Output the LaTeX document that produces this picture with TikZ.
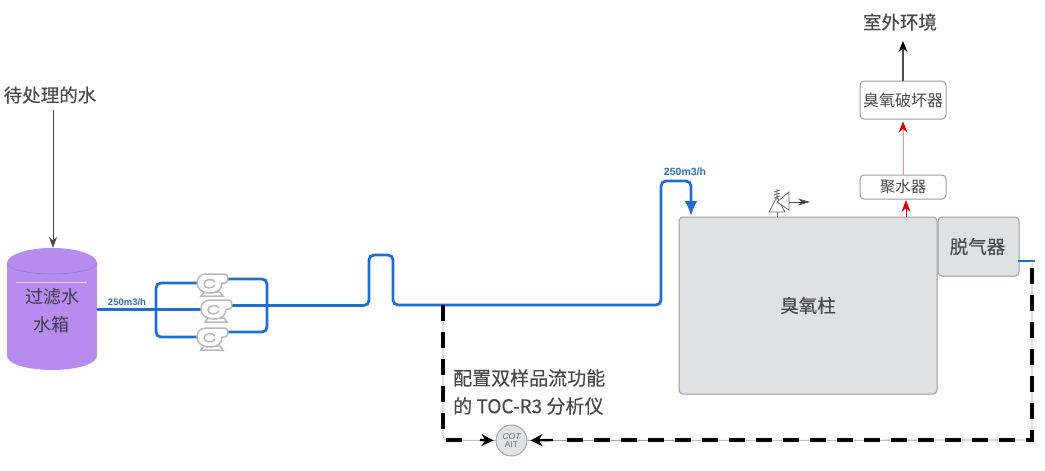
\documentclass[tikz,border=0pt]{standalone}
\usepackage{fontspec}
\newfontfamily\cjk{Noto Sans CJK SC}
\newfontfamily\cjkm[FakeBold=0.35]{Noto Sans CJK SC}
\setmainfont{Liberation Sans}
\usetikzlibrary{arrows.meta,calc}
\definecolor{pipeblue}{HTML}{1F6FD0}
\definecolor{txt}{HTML}{4A4A4A}
\definecolor{colgray}{HTML}{DFE2E5}
\definecolor{edgegray}{HTML}{9A9DA0}
\definecolor{tank}{HTML}{B68CEE}
\tikzset{
 x=1pt,y=-1pt,
 pipe/.style={draw=pipeblue,line width=2.8pt,rounded corners=5pt},
 straightpipe/.style={draw=pipeblue,line width=2.8pt},
 flow/.style={text=pipeblue!85!gray,font=\bfseries\fontsize{9.5}{10}\selectfont,inner sep=0pt},
 label/.style={text=txt,font=\cjkm\fontsize{18.5}{22}\selectfont,inner sep=0pt,align=left},
 whitebox/.style={draw=edgegray,line width=1pt,fill=white,rounded corners=4pt,text=txt,inner sep=0pt,minimum width=86pt},
 graybox/.style={draw=edgegray,line width=1pt,fill=colgray,rounded corners=4pt,inner sep=0pt,text=txt,font=\cjkm\fontsize{18.5}{22}\selectfont},
 sample/.style={draw=black,line width=3.8pt,dash pattern=on 16pt off 11pt},
 samplethin/.style={draw=gray!70,line width=0.8pt,rounded corners=4pt},
 pump/.pic={
  \draw[draw=gray!55,line width=1.5pt,fill=white]
    (-8,8) -- (-11,12) -- (11,12) -- (8,8) -- cycle;
  \draw[draw=gray!55,line width=1.5pt,fill=white]
    (-6,-10) -- (13,-10) .. controls (17,-10) and (17,-1) .. (13,-1) -- (10,-1)
    .. controls (10,5) and (6,9) .. (-2,9) .. controls (-11,9) and (-15,4) .. (-15,-1)
    .. controls (-15,-7) and (-11,-10) .. (-6,-10) -- cycle;
  \draw[draw=gray!55,line width=1.5pt] (3,-2) .. controls (1,-6) and (-8,-5) .. (-8,0) .. controls (-8,5) and (1,5) .. (3,1);
 }
}
\begin{document}
\begin{tikzpicture}
\useasboundingbox (0,0) rectangle (1045,471);

% tank
\fill[tank] (7,263) arc[x radius=45,y radius=15,start angle=180,end angle=360]
  -- (97,356) arc[x radius=45,y radius=14,start angle=0,end angle=180] -- cycle;
\draw[tank!85!black,line width=0.6pt] (7,263) arc[x radius=45,y radius=11,start angle=180,end angle=0];
\draw[white!70!tank,line width=0.8pt] (16,282) -- (87,282);
\node[inner sep=0pt,text=txt!70!tank!60!black,font=\cjk\fontsize{18}{28}\selectfont,align=center] (tanklabel) at (52,311) {过滤水\\水箱};
\coordinate (tankout) at (97,309.4);

% inlet
\node[label] (inlet) at (50,95) {待处理的水};
\coordinate (tanktop) at (53,248);
\draw[draw=txt,line width=0.9pt,-{Stealth[length=11pt,width=8pt]}] (53,110) -- (tanktop);

% pipes round the pumps
\coordinate (mL) at (156,309.4);
\coordinate (mR) at (267,305.4);
\coordinate (kink1) at (369,305.4);
\coordinate (kink2) at (393,305);
\coordinate (tee) at (443,305);
\coordinate (rise) at (661,305);
\coordinate (colin) at (691,216);
\draw[straightpipe] (tankout) -- (204,309.4);
\draw[pipe] (mL) |- (200,283);
\draw[pipe] (mL) |- (200,337);
\draw[pipe] (220,279) -| (mR);
\draw[straightpipe] (222,305.4) -- (mR);
\draw[pipe] (220,332) -| (mR);
\pic at (212,284) {pump};
\pic at (216,310) {pump};
\pic at (212,338) {pump};
\node[flow] (flow1) at (127,302.5) {250m3/h};

\draw[pipe] (mR) -- (kink1) -- (369,255) -- (393,255) -- (kink2) -- (tee) -- (rise) -- (661,181) -- (691,181) -- ($(colin)+(0,-14)$);
\draw[draw=pipeblue,line width=2.8pt,-{Latex[length=15pt,width=13pt]}] (691,198) -- (colin);
\node[flow,font=\bfseries\fontsize{10.5}{11}\selectfont] (flow2) at (685,172) {250m3/h};

% ozone column
\node[graybox,minimum width=258pt,minimum height=177pt] (column) at (808,305.5) {臭氧柱};
\node[graybox,minimum width=81pt,minimum height=59pt] (degas) at (978.5,246.5) {\hspace*{-2pt}脱气器};

% top boxes
\node[whitebox,minimum height=24pt,font=\cjk\fontsize{15.5}{18}\selectfont] (coalesce) at (903,187) {聚水器};
\node[whitebox,minimum height=38pt,font=\cjk\fontsize{16}{18}\selectfont] (destroy) at (903,100) {臭氧破坏器};
\node[label] (outside) at (900,22) {室外环境};
\coordinate (colout) at (906,217);
\coordinate (coalin) at (906,200);
\coordinate (outtip) at (903,41);
\draw[draw=red!85!black,line width=0.8pt,-{Stealth[length=12pt,width=9pt,color=red!85!black]}] (colout) -- (coalin);
\draw[draw=red!45,line width=0.7pt,-{Stealth[length=11pt,width=9pt,color=red!85!black]},shorten >=2pt] (coalesce.north) -- (destroy.south);
\draw[draw=txt,line width=1.2pt,-{Stealth[length=11pt,width=9pt,color=black]}] (destroy.north) -- (outtip);

% relief valve
\draw[draw=gray!80!black,line width=0.8pt,fill=white]
  (769,212) -- (777,197) -- (785,212) -- cycle;
\draw[draw=gray!80!black,line width=0.8pt,fill=white]
  (777,202) -- (789,192) -- (789,210) -- cycle;
\draw[draw=gray!80!black,line width=0.8pt] (777,212) -- (777,217);
\draw[draw=gray!80!black,line width=0.8pt] (777,189) -- (777,200) (774,192) -- (780,190) (774,195) -- (780,193) (774,198) -- (780,196);
\draw[draw=txt,line width=0.8pt,-{Stealth[length=12pt,width=7pt]}] (789,202) -- (810,202);

% sample lines
\node[circle,draw=gray!70,line width=1pt,fill=colgray,minimum size=31pt,inner sep=0pt,text=gray!85!black,font=\itshape\fontsize{8.5}{9.5}\selectfont,align=center] (ait) at (511.5,440.5) {COT\\[-1pt]\upshape AIT};
\coordinate (deg1) at (1018,261);
\coordinate (deg2) at (1035,261);
\coordinate (c1) at (1032,263);
\coordinate (c2) at (1032,440);
\coordinate (c3) at (443,440);
\draw[draw=pipeblue,line width=1.4pt] (deg1) -- (deg2);
\draw[samplethin] (c1) -- (c2) -- (ait.east);
\draw[samplethin] (tee) -- (c3) -- (ait.west);
\draw[sample] (567,440) -- (c2) -- (c1);
\draw[sample] (tee) -- (443,436);
\draw[sample] (446,440) -- (463,440);
\draw[draw=black,line width=2.4pt,-{Stealth[length=12pt,width=12pt]},shorten >=3pt] (553,440) -- (ait.east);
\draw[draw=black,line width=2.4pt,-{Stealth[length=12pt,width=12pt]},shorten >=2pt] (480,440) -- (ait.west);
\node[label,font=\cjkm\fontsize{19}{28}\selectfont,anchor=west] (note) at (453,392) {配置双样品流功能\\的 TOC-R3 分析仪};
\end{tikzpicture}
\end{document}
